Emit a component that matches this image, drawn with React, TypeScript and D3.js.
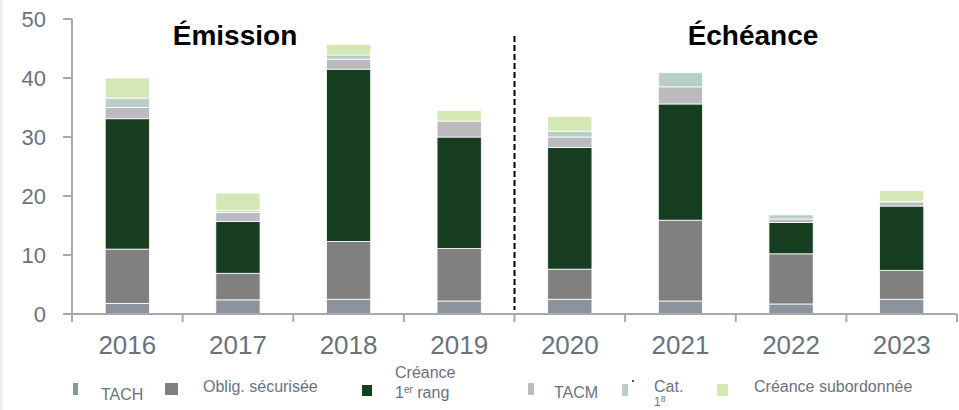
import * as d3 from 'd3';

// années (catégories)
const years = ['2016', '2017', '2018', '2019', '2020', '2021', '2022', '2023'];

// séries, en milliards
const series = ['TACH', 'Oblig. sécurisée', 'Créance 1er rang', 'TACM', 'Cat. 1', 'Créance subordonnée'];
const tach = [1.8, 2.4, 2.5, 2.2, 2.5, 2.2, 1.7, 2.5];
const obligSec = [9.2, 4.5, 9.8, 8.9, 5.1, 13.7, 8.5, 4.9];
const creance1 = [22.1, 8.8, 29.2, 18.9, 20.6, 19.7, 5.3, 10.9];
const tacm = [1.9, 1.5, 1.7, 2.7, 1.8, 2.9, 0.6, 0.7];
const cat1 = [1.6, 0.3, 0.7, 0, 1.0, 2.4, 0.7, 0.1];
const creanceSub = [3.4, 3.0, 1.8, 1.8, 2.5, 0, 0, 1.8];

const yTicks = [0, 10, 20, 30, 40, 50];

const colors = ['#8b949c', '#808080', '#183e22', '#bbbabf', '#b7cfc6', '#d3e8b5'];

const W = 959;
const H = 410;
const axisColor = '#a7a9ae';
const textColor = '#6b727c';

const App = () => {
  const x = d3.scaleBand<string>()
    .domain(years)
    .range([72, 957])
    .paddingInner(0.6)
    .paddingOuter(0.3);
  const step = x.step();
  const y = d3.scaleLinear().domain([0, 50]).range([314, 19]);

  const table = years.map((yr, i) => ({
    year: yr,
    s0: tach[i], s1: obligSec[i], s2: creance1[i], s3: tacm[i], s4: cat1[i], s5: creanceSub[i],
  }));
  const stack = d3.stack<any>().keys(['s0', 's1', 's2', 's3', 's4', 's5']);
  const layers = stack(table);

  const boundaries = d3.range(years.length + 1).map(i => 72 + i * step);
  const divider = boundaries[4];

  return (
    <svg width={W} height={H} style={{ position: 'absolute', left: 0, top: 0, display: 'block' }}
      fontFamily="'Liberation Sans', Arial, sans-serif">
      <rect x={0} y={0} width={W} height={H} fill="#fff" />
      <rect x={0} y={0} width={3} height={H} fill="#f0f0f0" />

      {/* barres empilées */}
      {layers.map((layer, li) => (
        <g key={li} fill={colors[li]}>
          {layer.map((d, i) => (
            d[1] - d[0] > 0 ? (
              <rect key={i}
                x={x(years[i])!}
                y={y(d[1])}
                width={x.bandwidth()}
                height={y(d[0]) - y(d[1])}
                stroke="#fff" strokeWidth={0.8} />
            ) : null
          ))}
        </g>
      ))}

      {/* axe Y */}
      <line x1={72} x2={72} y1={y(50)} y2={y(0)} stroke={axisColor} strokeWidth={2} />
      {yTicks.map(t => (
        <g key={t}>
          <line x1={63} x2={72} y1={y(t)} y2={y(t)} stroke={axisColor} strokeWidth={2} />
          <text x={46} y={y(t) + 8} textAnchor="end" fontSize={22} fill={textColor}>{t}</text>
        </g>
      ))}

      {/* axe X */}
      <line x1={63} x2={957} y1={y(0)} y2={y(0)} stroke={axisColor} strokeWidth={2} />
      {boundaries.map((b, i) => (
        <line key={i} x1={b} x2={b} y1={y(0)} y2={y(0) + 8} stroke={axisColor} strokeWidth={2} />
      ))}
      {years.map(yr => (
        <text key={yr} x={x(yr)! + x.bandwidth() / 2} y={354} textAnchor="middle" fontSize={26} fill={textColor}>{yr}</text>
      ))}

      {/* séparation */}
      <line x1={divider} x2={divider} y1={36} y2={310} stroke="#000" strokeWidth={2} strokeDasharray="6,3" />

      <text x={235} y={45} textAnchor="middle" fontSize={28} fontWeight="bold" fill="#000">Émission</text>
      <text x={753} y={45} textAnchor="middle" fontSize={28} fontWeight="bold" fill="#000">Échéance</text>

      {/* légende */}
      <g fontSize={16} fill={textColor}>
        <rect x={73} y={383} width={5} height={12} fill={colors[0]} />
        <text x={101} y={400}>{series[0]}</text>

        <rect x={165} y={383} width={13} height={12} fill={colors[1]} />
        <text x={203} y={392}>{series[1]}</text>

        <rect x={362} y={385} width={10} height={11} fill={colors[2]} />
        <text x={395} y={378}>Créance</text>
        <text x={395} y={398}>1<tspan fontSize={10} dy={-5}>er</tspan><tspan dy={5}> rang</tspan></text>

        <rect x={528} y={383} width={6} height={12} fill={colors[3]} />
        <text x={554} y={398}>{series[3]}</text>

        <rect x={622} y={384} width={6} height={12} fill={colors[4]} />
        <rect x={632} y={380} width={2} height={2} fill="#555" />
        <text x={654} y={392}>Cat.</text>
        <text x={654} y={406} fontSize={12}>1<tspan fontSize={9} dy={-4}>8</tspan></text>

        <rect x={717} y={384} width={11} height={12} fill={colors[5]} />
        <text x={754} y={392}>{series[5]}</text>
      </g>
    </svg>
  );
};

export default App;
